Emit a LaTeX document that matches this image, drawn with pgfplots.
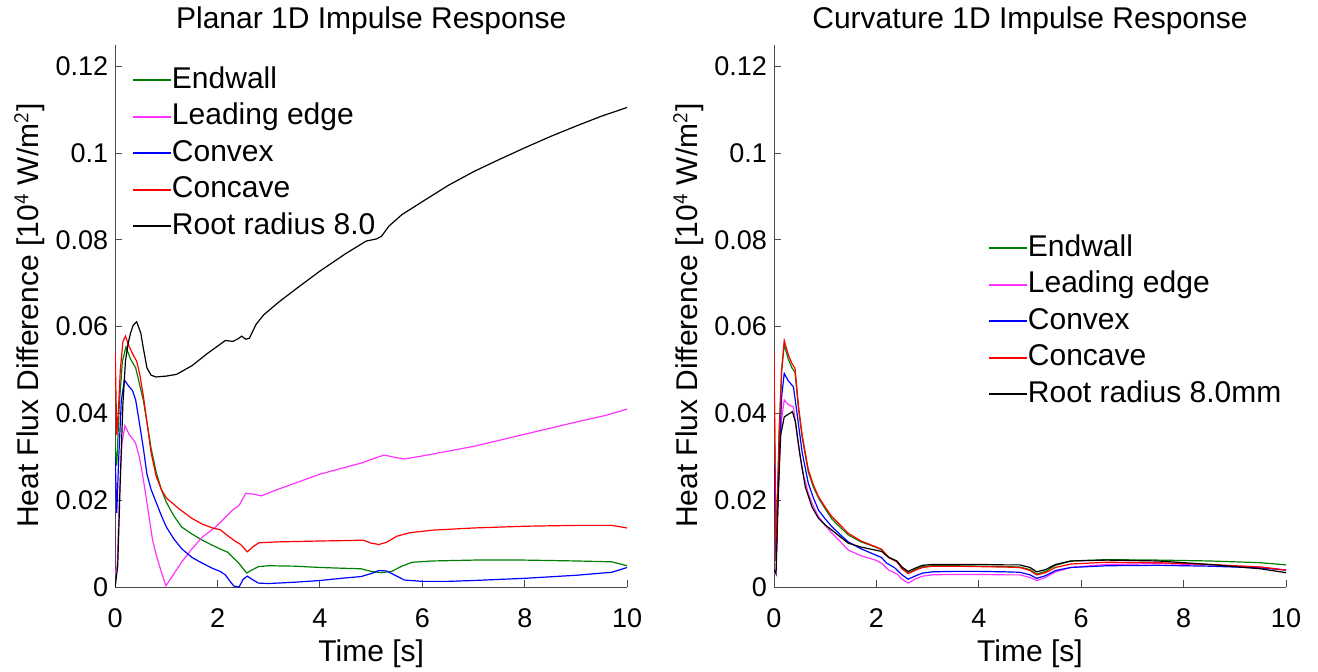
\documentclass[border=0pt]{standalone}
\usepackage{pgfplots}
\pgfplotsset{compat=1.18}
\usepackage{fontspec}
\setmainfont{Liberation Sans}
\definecolor{mgreen}{rgb}{0,0.5,0}
\definecolor{mmag}{rgb}{1,0.2,1}
\definecolor{mred}{rgb}{1,0,0}
\definecolor{mblue}{rgb}{0,0,1}
\pgfplotsset{
  myax/.style={
    scale only axis, width=256pt, height=271.25pt,
    xmin=0, xmax=10, ymin=0, ymax=0.125,
    axis x line*=bottom, axis y line*=left,
    tick align=inside, major tick length=3.5pt,
    axis line style={color=black!70, line width=0.5pt},
    tick style={color=black!70, line width=0.5pt},
    xtick={0,2,4,6,8,10}, xticklabels={0,2,4,6,8,10},
    ytick={0,0.02,0.04,0.06,0.08,0.1,0.12},
    yticklabels={0,0.02,0.04,0.06,0.08,0.1,0.12},
    scaled y ticks=false,
    tick label style={font=\fontsize{13.5}{16}\selectfont},
    xticklabel style={anchor=base, yshift=-20pt},
    xlabel={Time [s]},
    ylabel={Heat Flux Difference [10$^{\mathsf{4}}$ W/m$^{\mathsf{2}}$]},
    label style={font=\fontsize{15}{18}\selectfont},
    xlabel style={at={(axis description cs:0.5,0)}, anchor=base, yshift=-37pt},
    ylabel style={at={(axis description cs:-0.149,0.5)}, anchor=base, rotate=0},
    title style={at={(0.5,1)}, anchor=base, yshift=2pt, font=\fontsize{15}{18}\selectfont},
    every axis plot/.append style={line width=0.6pt},
    legend cell align=left,
    legend image code/.code={\draw[##1, line width=1pt] (0pt,0.2pt) -- (19pt,0.2pt);},
    legend style={draw=none, fill=none, inner sep=0pt, row sep=3.75pt,
      font=\fontsize{15}{18}\selectfont,
      nodes={inner sep=0pt, text height=11pt, text depth=3.5pt},
      /tikz/every even column/.append style={column sep=1pt}},
  }
}
\begin{document}
\begin{tikzpicture}
\path[use as bounding box] (-57.6pt,-42pt) rectangle (601.4pt,293.5pt);
% ---------------- left ----------------
\begin{axis}[myax, at={(0pt,0pt)}, anchor=origin,
  title={Planar 1D Impulse Response},
  legend style={at={(0.032,0.961)}, anchor=north west}]
\addplot[mgreen] coordinates {(0,0.032)(0.03,0.028)(0.08,0.042)(0.14,0.052)(0.21,0.0553)(0.3,0.0525)(0.4,0.0505)(0.47,0.047)(0.55,0.043)(0.62,0.038)(0.7,0.032)(0.8,0.0265)(0.9,0.0225)(1.0,0.0195)(1.15,0.0163)(1.3,0.0138)(1.5,0.0122)(1.7,0.0108)(1.9,0.0096)(2.1,0.0085)(2.2,0.008)(2.3,0.0068)(2.4,0.0057)(2.5,0.0042)(2.57,0.0032)(2.65,0.0038)(2.8,0.0047)(3.0,0.0049)(3.5,0.0048)(4,0.0045)(4.5,0.0043)(4.8,0.0042)(5.0,0.0036)(5.2,0.0033)(5.4,0.0036)(5.6,0.0048)(5.8,0.0057)(6.2,0.006)(7,0.0062)(8,0.0062)(9,0.006)(9.7,0.0058)(10,0.0049)};
\addlegendentry{Endwall}
\addplot[mmag] coordinates {(0,0.003)(0.04,0.005)(0.08,0.02)(0.13,0.033)(0.19,0.0372)(0.27,0.0352)(0.35,0.034)(0.4,0.0331)(0.47,0.030)(0.53,0.0262)(0.6,0.021)(0.67,0.0155)(0.73,0.0108)(0.8,0.0075)(0.9,0.0035)(0.99,0.0003)(1.1,0.0022)(1.3,0.0058)(1.5,0.0088)(1.7,0.0115)(1.97,0.0139)(2.15,0.016)(2.3,0.0178)(2.42,0.0188)(2.55,0.0216)(2.7,0.0214)(2.85,0.021)(3.2,0.0226)(3.6,0.0243)(4,0.026)(4.5,0.0276)(4.85,0.0287)(4.95,0.0292)(5.1,0.0298)(5.25,0.0304)(5.45,0.0299)(5.65,0.0295)(6,0.0302)(7,0.0324)(8,0.0352)(9,0.038)(9.6,0.0396)(10,0.041)};
\addlegendentry{Leading edge}
\addplot[mblue] coordinates {(0,0.030)(0.03,0.017)(0.07,0.03)(0.12,0.043)(0.18,0.0477)(0.25,0.0465)(0.34,0.0452)(0.4,0.0431)(0.47,0.038)(0.55,0.032)(0.62,0.026)(0.7,0.0225)(0.8,0.0195)(0.9,0.0165)(1.0,0.0138)(1.15,0.0110)(1.3,0.0088)(1.5,0.0068)(1.7,0.0055)(1.9,0.0043)(2.05,0.0036)(2.15,0.0028)(2.25,0.0012)(2.32,0.0002)(2.42,0.0)(2.5,0.0018)(2.58,0.0025)(2.68,0.0017)(2.8,0.0009)(3.0,0.0008)(3.5,0.0011)(4,0.0015)(4.5,0.0021)(4.8,0.0024)(5.0,0.0031)(5.15,0.0038)(5.3,0.0037)(5.45,0.0028)(5.65,0.0016)(6,0.0013)(6.5,0.0013)(7,0.0015)(8,0.002)(9,0.0027)(9.7,0.0034)(10,0.0045)};
\addlegendentry{Convex}
\addplot[mred] coordinates {(0,0.054)(0.03,0.035)(0.06,0.04)(0.1,0.05)(0.15,0.0565)(0.2,0.0578)(0.27,0.0555)(0.35,0.0535)(0.42,0.052)(0.48,0.049)(0.55,0.044)(0.62,0.038)(0.7,0.031)(0.8,0.0255)(0.9,0.0225)(1.0,0.0205)(1.25,0.018)(1.5,0.0158)(1.7,0.0145)(1.9,0.0136)(2.05,0.0132)(2.2,0.0118)(2.35,0.0105)(2.45,0.0098)(2.58,0.0081)(2.68,0.0092)(2.81,0.0102)(3.2,0.0104)(3.6,0.0105)(4,0.0106)(4.5,0.0107)(4.85,0.0108)(5.0,0.0101)(5.15,0.0098)(5.3,0.0103)(5.5,0.0117)(5.75,0.0125)(6.2,0.0131)(7,0.0136)(8,0.014)(9,0.0142)(9.7,0.0142)(10,0.0136)};
\addlegendentry{Concave}
\addplot[black] coordinates {(0,0)(0.05,0.005)(0.1,0.025)(0.15,0.042)(0.2,0.052)(0.25,0.056)(0.3,0.0585)(0.35,0.0603)(0.42,0.0611)(0.5,0.0585)(0.55,0.055)(0.62,0.0505)(0.7,0.0488)(0.8,0.0484)(1.0,0.0486)(1.2,0.049)(1.5,0.051)(1.8,0.0538)(2.0,0.0555)(2.15,0.0568)(2.3,0.0566)(2.4,0.0572)(2.47,0.0578)(2.55,0.0571)(2.62,0.0573)(2.75,0.0605)(2.9,0.0627)(3.2,0.0657)(3.6,0.0693)(4,0.0728)(4.5,0.0768)(4.9,0.0797)(5.1,0.0802)(5.2,0.0808)(5.35,0.0832)(5.6,0.0858)(6,0.0888)(6.5,0.0925)(7,0.0957)(7.5,0.0985)(8,0.1012)(8.5,0.1038)(9,0.1062)(9.5,0.1085)(10,0.1105)};
\addlegendentry{Root radius 8.0}
\end{axis}
% ---------------- right ----------------
\begin{axis}[myax, at={(329.4pt,0pt)}, anchor=origin,
  title={Curvature 1D Impulse Response},
  legend style={at={(0.417,0.651)}, anchor=north west}]
\addplot[mgreen] coordinates {(0,0.05)(0.04,0.008)(0.1,0.036)(0.15,0.050)(0.2,0.0558)(0.28,0.0525)(0.35,0.0505)(0.41,0.0495)(0.48,0.041)(0.55,0.0345)(0.67,0.0265)(0.77,0.023)(0.87,0.0205)(1.0,0.018)(1.13,0.0157)(1.3,0.0137)(1.45,0.012)(1.7,0.0104)(1.98,0.0092)(2.1,0.0086)(2.24,0.0069)(2.4,0.0059)(2.5,0.0043)(2.62,0.0032)(2.75,0.004)(2.9,0.0047)(3.1,0.0049)(3.5,0.0049)(4,0.0048)(4.5,0.0047)(4.8,0.0046)(5.0,0.004)(5.13,0.003)(5.3,0.0036)(5.5,0.005)(5.8,0.006)(6.5,0.0063)(7.5,0.0062)(8.5,0.006)(9.5,0.0056)(10,0.0051)};
\addlegendentry{Endwall}
\addplot[mmag] coordinates {(0,0.003)(0.04,0.004)(0.1,0.028)(0.15,0.039)(0.2,0.0431)(0.28,0.042)(0.38,0.0415)(0.45,0.035)(0.55,0.027)(0.67,0.0216)(0.77,0.0185)(0.87,0.0162)(1.0,0.0142)(1.13,0.0124)(1.3,0.0104)(1.45,0.0085)(1.7,0.0072)(1.98,0.0062)(2.1,0.0055)(2.24,0.0039)(2.4,0.003)(2.5,0.0018)(2.62,0.0009)(2.75,0.0018)(2.9,0.0025)(3.1,0.0028)(3.5,0.0029)(4,0.0029)(4.5,0.0028)(4.8,0.0028)(5.0,0.0022)(5.13,0.0015)(5.3,0.0022)(5.5,0.0035)(5.8,0.0045)(6.5,0.0052)(7.5,0.0054)(8.5,0.0051)(9.5,0.0046)(10,0.0039)};
\addlegendentry{Leading edge}
\addplot[mblue] coordinates {(0,0.03)(0.04,0.006)(0.1,0.03)(0.15,0.044)(0.2,0.0492)(0.28,0.0475)(0.38,0.0461)(0.45,0.040)(0.55,0.031)(0.67,0.0239)(0.77,0.0205)(0.87,0.0177)(1.0,0.0157)(1.13,0.0139)(1.3,0.012)(1.45,0.0104)(1.7,0.0088)(1.98,0.0074)(2.1,0.0068)(2.2,0.0055)(2.35,0.0045)(2.5,0.0028)(2.62,0.0018)(2.75,0.0025)(2.9,0.0032)(3.1,0.0035)(3.5,0.0036)(4,0.0036)(4.5,0.0035)(4.8,0.0034)(5.0,0.0028)(5.13,0.002)(5.3,0.0026)(5.5,0.0038)(5.8,0.0045)(6.5,0.0049)(7.5,0.005)(8.5,0.0048)(9.5,0.0044)(10,0.0039)};
\addlegendentry{Convex}
\addplot[mred] coordinates {(0,0.054)(0.04,0.006)(0.1,0.035)(0.15,0.050)(0.2,0.0568)(0.28,0.0535)(0.35,0.0515)(0.41,0.0504)(0.48,0.0415)(0.55,0.035)(0.67,0.027)(0.77,0.0235)(0.87,0.0208)(1.0,0.0184)(1.13,0.0162)(1.3,0.0142)(1.45,0.0124)(1.7,0.0106)(1.98,0.0093)(2.1,0.0087)(2.24,0.0068)(2.4,0.0058)(2.5,0.0042)(2.62,0.0031)(2.75,0.0038)(2.9,0.0045)(3.1,0.0048)(3.5,0.0048)(4,0.0047)(4.5,0.0046)(4.8,0.0045)(5.0,0.0038)(5.13,0.0028)(5.3,0.0033)(5.5,0.0045)(5.8,0.0053)(6.5,0.0057)(7.5,0.0056)(8.5,0.0052)(9.5,0.0046)(10,0.0039)};
\addlegendentry{Concave}
\addplot[black] coordinates {(0,0.004)(0.04,0.003)(0.08,0.02)(0.13,0.035)(0.2,0.0392)(0.28,0.0398)(0.36,0.0404)(0.42,0.038)(0.5,0.031)(0.61,0.0231)(0.74,0.0185)(0.87,0.0158)(1.0,0.0143)(1.13,0.0131)(1.3,0.0115)(1.45,0.0101)(1.7,0.0092)(1.98,0.0085)(2.1,0.0082)(2.24,0.0068)(2.4,0.006)(2.5,0.0046)(2.62,0.0036)(2.75,0.0043)(2.9,0.005)(3.1,0.0052)(3.5,0.0052)(4,0.0052)(4.5,0.0051)(4.8,0.0051)(5.0,0.0045)(5.13,0.0035)(5.3,0.004)(5.5,0.0052)(5.8,0.006)(6.5,0.0062)(7.5,0.006)(8.5,0.0052)(9.5,0.0042)(10,0.0033)};
\addlegendentry{Root radius 8.0mm}
\end{axis}
\end{tikzpicture}
\end{document}
